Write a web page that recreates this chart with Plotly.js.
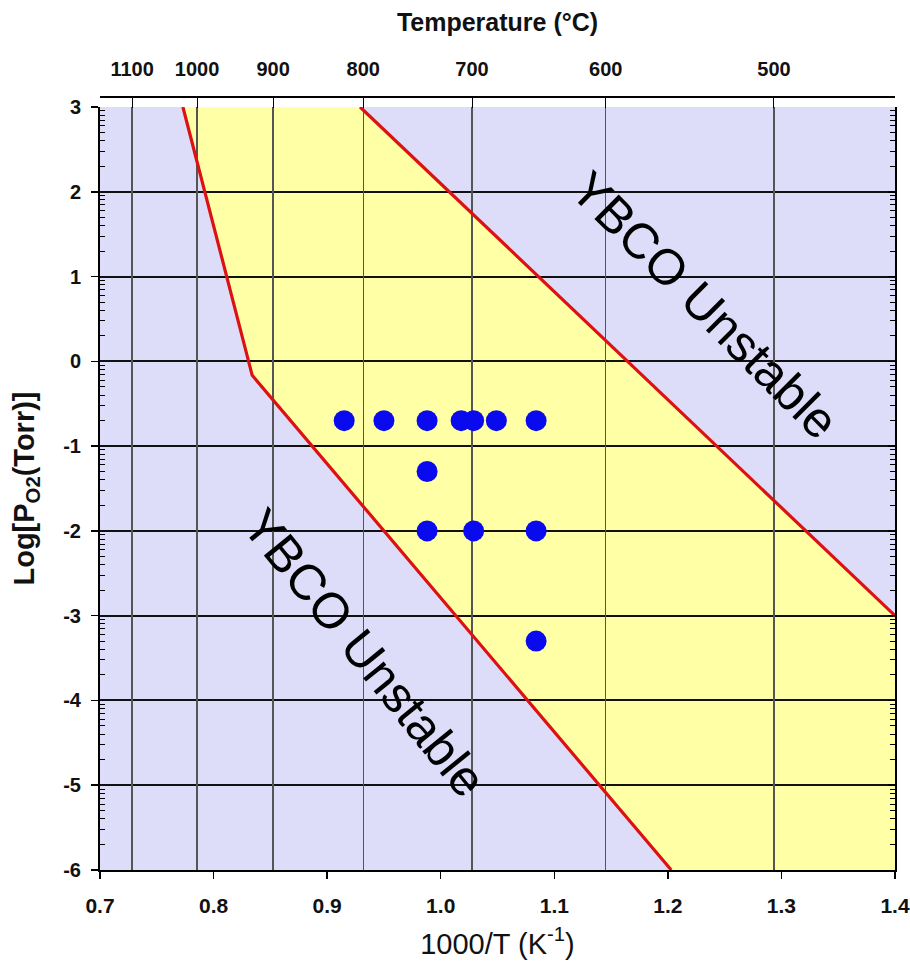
<!DOCTYPE html>
<html>
<head>
<meta charset="utf-8">
<script src="https://cdn.plot.ly/plotly-3.0.1.min.js"></script>
<style>html,body{margin:0;padding:0;background:#fff}</style>
</head>
<body>
<div id="chart" style="width:910px;height:974px"></div>
<script>
// YBCO stability window: 1000/T (K^-1) against log10 of oxygen pressure (Torr)
const xRange = [0.7, 1.4];
const yRange = [-6, 3];

// lower-temperature / high-pressure boundary (left red line, with a kink)
const lowerBoundX = [0.773, 0.834, 1.203];
const lowerBoundY = [3, -0.165, -6];
// upper boundary (right red line)
const upperBoundX = [0.929, 1.4];
const upperBoundY = [3, -3];

// deposition conditions
const sampleX = [0.915, 0.950, 0.988, 1.018, 1.029, 1.049, 1.084, 0.988, 0.988, 1.029, 1.084, 1.084];
const sampleY = [-0.7, -0.7, -0.7, -0.7, -0.7, -0.7, -0.7, -1.3, -2, -2, -2, -3.3];

// axis ticks
const xTickVals = [0.7, 0.8, 0.9, 1.0, 1.1, 1.2, 1.3, 1.4];
const yTickVals = [3, 2, 1, 0, -1, -2, -3, -4, -5, -6];
const tempLabelsC = [1100, 1000, 900, 800, 700, 600, 500];

const tempTickVals = tempLabelsC.map(c => 1000 / (c + 273.15));
const minorY = [];
for (let n = yRange[0]; n < yRange[1]; n++) {
  for (let k = 2; k <= 9; k++) minorY.push(n + Math.log10(k));
}

// stable (yellow) region polygon, built from the two boundaries
const regionPts = [];
lowerBoundX.forEach((x, i) => regionPts.push([x, lowerBoundY[i]]));
regionPts.push([xRange[1], yRange[0]]);
for (let i = upperBoundX.length - 1; i >= 0; i--) regionPts.push([upperBoundX[i], upperBoundY[i]]);
const regionPath = regionPts.map((p, i) => (i ? 'L' : 'M') + p[0] + ',' + p[1]).join(' ') + ' Z';

const FONT = 'Liberation Sans, Arial, sans-serif';

const traces = [
  {x: lowerBoundX, y: lowerBoundY, mode: 'lines', line: {color: '#DD1111', width: 3.2},
   hoverinfo: 'skip', showlegend: false},
  {x: upperBoundX, y: upperBoundY, mode: 'lines', line: {color: '#DD1111', width: 3.2},
   hoverinfo: 'skip', showlegend: false},
  {x: sampleX, y: sampleY, mode: 'markers', marker: {color: '#0A0AEE', size: 21},
   showlegend: false},
  // carriers for the secondary axes
  {x: xRange, y: yRange, xaxis: 'x2', yaxis: 'y', mode: 'markers', marker: {opacity: 0},
   hoverinfo: 'skip', showlegend: false},
  {x: xRange, y: yRange, xaxis: 'x', yaxis: 'y2', mode: 'markers', marker: {opacity: 0},
   hoverinfo: 'skip', showlegend: false}
];

const layout = {
  width: 910, height: 974,
  margin: {l: 100, r: 15, t: 97, b: 104},
  paper_bgcolor: '#ffffff',
  plot_bgcolor: '#DDDDF9',
  showlegend: false,
  xaxis: {
    range: xRange, tickmode: 'array', tickvals: xTickVals,
    ticktext: xTickVals.map(v => v.toFixed(1)),
    ticks: 'outside', ticklen: 7, tickwidth: 1.5, tickcolor: '#000',
    ticklabelstandoff: 9,
    showline: true, linewidth: 2, linecolor: '#000', mirror: false,
    showgrid: false, zeroline: false, anchor: 'y',
    tickfont: {family: FONT, size: 21, color: '#111', weight: 700},
    title: {text: '1000/T (K<sup>-1</sup>)', standoff: 17,
            font: {family: FONT, size: 29, color: '#111'}}
  },
  xaxis2: {
    overlaying: 'x', side: 'top', anchor: 'free', position: 1,
    range: xRange, tickmode: 'array', tickvals: tempTickVals,
    ticktext: tempLabelsC.map(String),
    ticks: 'inside', ticklen: 10, tickwidth: 1, tickcolor: '#000',
    ticklabelstandoff: 12,
    showline: true, linewidth: 2, linecolor: '#000',
    showgrid: true, gridcolor: '#555', gridwidth: 1.2, zeroline: false,
    tickfont: {family: FONT, size: 20, color: '#111', weight: 700},
    title: {text: 'Temperature (°C)', standoff: 18,
            font: {family: FONT, size: 25, color: '#111', weight: 700}}
  },
  yaxis: {
    range: yRange, domain: [0, 0.98706], tickmode: 'array', tickvals: yTickVals,
    ticktext: yTickVals.map(String),
    ticks: 'outside', ticklen: 7, tickwidth: 1.5, tickcolor: '#000',
    ticklabelstandoff: 6,
    showline: true, linewidth: 2, linecolor: '#000', mirror: true,
    showgrid: true, gridcolor: '#111', gridwidth: 2, zeroline: false,
    minor: {tickmode: 'array', tickvals: minorY, ticks: 'inside', ticklen: 5,
            tickwidth: 1, tickcolor: '#000', showgrid: false},
    tickfont: {family: FONT, size: 20, color: '#111', weight: 700},
    title: {text: 'Log[P<sub>O2</sub>(Torr)]', standoff: 20,
            font: {family: FONT, size: 29, color: '#111', weight: 700}}
  },
  yaxis2: {
    overlaying: 'y', side: 'right', anchor: 'x',
    range: yRange, tickmode: 'array', tickvals: yTickVals,
    ticks: 'inside', ticklen: 7, tickwidth: 1.5, tickcolor: '#000',
    showticklabels: false, showgrid: false, zeroline: false, showline: false,
    minor: {tickmode: 'array', tickvals: minorY, ticks: 'inside', ticklen: 5,
            tickwidth: 1, tickcolor: '#000', showgrid: false}
  },
  shapes: [
    {type: 'path', xref: 'x', yref: 'y', path: regionPath, layer: 'below',
     fillcolor: '#FFFFA6', line: {width: 0}}
  ],
  annotations: [
    {x: 1.232, y: 0.66, xref: 'x', yref: 'y', text: 'YBCO Unstable', showarrow: false,
     textangle: 45, font: {family: FONT, size: 50, color: '#000'}},
    {x: 0.933, y: -3.44, xref: 'x', yref: 'y', text: 'YBCO Unstable', showarrow: false,
     textangle: 51, font: {family: FONT, size: 50, color: '#000'}}
  ]
};

Plotly.newPlot('chart', traces, layout, {staticPlot: true, displayModeBar: false});
</script>
</body>
</html>
